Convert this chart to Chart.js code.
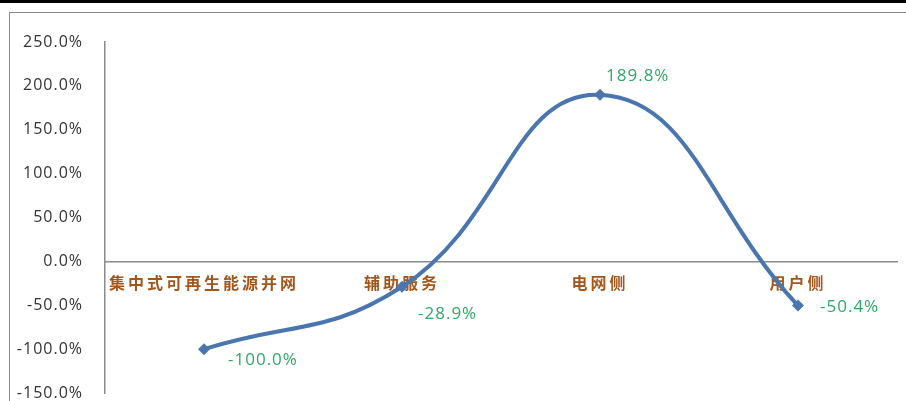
<!DOCTYPE html>
<html>
<head>
<meta charset="utf-8">
<script src="https://cdn.jsdelivr.net/npm/chart.js@4"></script>
<style>
  html, body { margin: 0; padding: 0; background: #fff; }
  #wrap { position: relative; width: 906px; height: 401px; overflow: hidden; }
  #topbar { position: absolute; left: 0; top: 0; width: 906px; height: 3px; background: #000; }
  #frame { position: absolute; left: 9px; top: 12px; width: 906px; height: 400px;
           border-left: 1.5px solid #8a8a8a; border-top: 1.5px solid #8a8a8a; }
  canvas { position: absolute; left: 0; top: 0; }
</style>
</head>
<body>
<div id="wrap">
  <div id="topbar"></div>
  <div id="frame"></div>
  <canvas id="growthChart" width="906" height="401"></canvas>
</div>
<script>
"use strict";

const categories = ["集中式可再生能源并网", "辅助服务", "电网侧", "用户侧"];
const growthValues = [-100.0, -28.9, 189.8, -50.4];
const yTicks = [-150, -100, -50, 0, 50, 100, 150, 200, 250];

// where each value label sits relative to its point
const labelOffsets = [[24, 11], [16, 27], [6, -19], [22, 2]];

const valueLabels = {
  id: "valueLabels",
  afterDatasetsDraw(chart) {
    const ctx = chart.ctx;
    const meta = chart.getDatasetMeta(0);
    ctx.save();
    ctx.font = "17px 'Open Sans', sans-serif";
    ctx.letterSpacing = "1px";
    ctx.fillStyle = "#2fa866";
    ctx.textAlign = "left";
    ctx.textBaseline = "middle";
    meta.data.forEach((pt, i) => {
      const [dx, dy] = labelOffsets[i];
      ctx.fillText(growthValues[i].toFixed(1) + "%", pt.x + dx, pt.y + dy);
    });
    ctx.restore();
  }
};

// widen the tick text a little, like the original
function spaceLabels(scale, spacing) {
  const original = scale.drawLabels;
  scale.drawLabels = function (area) {
    const ctx = this.ctx;
    ctx.save();
    ctx.letterSpacing = spacing;
    original.call(this, area);
    ctx.restore();
  };
}

const tickSpacing = {
  id: "tickSpacing",
  afterLayout(chart) {
    if (chart.$spaced) return;
    chart.$spaced = true;
    spaceLabels(chart.scales.x, "3px");
    spaceLabels(chart.scales.y, "1px");
  }
};

document.addEventListener("DOMContentLoaded", () => {
  const canvas = document.getElementById("growthChart");

  new Chart(canvas, {
    type: "line",
    data: {
      labels: categories,
      datasets: [
        {
          data: growthValues,
          borderColor: "#4a76b0",
          backgroundColor: "#4a76b0",
          borderWidth: 4,
          tension: 0.45,
          pointStyle: "rectRot",
          pointRadius: 6,
          pointBorderWidth: 0,
          fill: false
        }
      ]
    },
    options: {
      responsive: false,
      animation: false,
      devicePixelRatio: 1,
      layout: { padding: { top: 42, bottom: 8, right: 9, left: 0 } },
      plugins: {
        legend: { display: false },
        tooltip: { enabled: false }
      },
      scales: {
        x: {
          position: { y: 0 },
          offset: true,
          afterFit(scale) { scale.height = 0; },
          grid: { display: false, drawTicks: false },
          border: { display: true, color: "#8a8a8a", width: 1.5 },
          ticks: {
            color: "#a3561c",
            padding: 12,
            maxRotation: 0,
            autoSkip: false,
            font: { family: "'Noto Sans CJK SC'", size: 16, weight: "bold" }
          }
        },
        y: {
          min: -150,
          max: 250,
          afterFit(scale) { scale.width = 105; },
          afterBuildTicks(scale) { scale.ticks = yTicks.map((v) => ({ value: v })); },
          // invisible tick length gives the label gap without extra vertical padding
          grid: { display: false, drawTicks: true, tickLength: 22 },
          border: { display: true, color: "#8a8a8a", width: 1.5 },
          ticks: {
            color: "#333",
            padding: 0,
            font: { family: "'Open Sans', sans-serif", size: 16, lineHeight: 1 },
            callback: (v) => Number(v).toFixed(1) + "%"
          }
        }
      }
    },
    plugins: [valueLabels, tickSpacing]
  });
});
</script>
</body>
</html>
